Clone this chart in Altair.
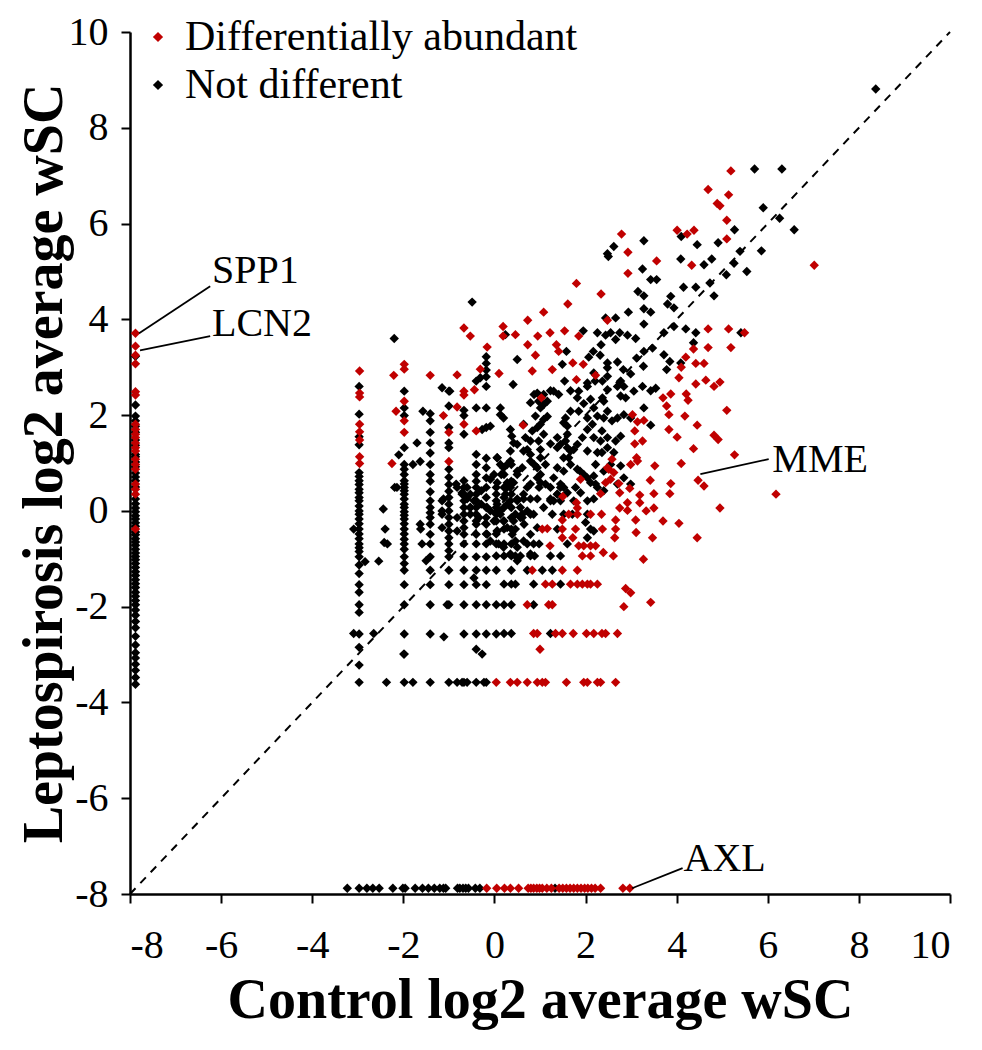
import altair as alt
import pandas as pd

GROUPS = ["Differentially abundant", "Not different"]
COLORS = ["#c00000", "#000000"]

# proteins absent in controls (drawn at the lower x bound)
ctrl_absent_x = -7.88
ctrl_absent_red_y = [3.71, 3.44, 3.25, 3.07, 2.49, 2.42, 1.81, 1.70, 1.60, 1.53, 1.42, 1.32,
                     1.25, 1.08, 0.97, 0.87, 0.56, 0.45, 0.35, -0.38]
ctrl_absent_black_y = [3.23, 2.21, 1.98, 1.88, 1.77, 1.64, 1.48, 1.37, 1.18, 1.13, 1.02, 0.92,
                       0.79, 0.71, 0.63, 0.50, 0.25, 0.15, 0.06, -0.02, -0.10, -0.17, -0.25,
                       -0.32, -0.44, -0.50, -0.58, -0.65, -0.72, -0.80, -0.88, -0.95, -1.02,
                       -1.10, -1.18, -1.27, -1.35, -1.44, -1.52, -1.60, -1.70, -1.78, -1.87,
                       -1.96, -2.07, -2.18, -2.31, -2.44, -2.62, -2.80, -2.96, -3.07, -3.20,
                       -3.33, -3.48, -3.62]

# proteins absent in leptospirosis (drawn at the lower y bound)
lepto_absent_y = -7.88
lepto_absent_red_x = [-0.17, 0.05, 0.22, 0.35, 0.53, 0.74, 0.80, 0.86, 0.93, 0.99, 1.05, 1.15,
                      1.25, 1.42, 1.50, 1.58, 1.66, 1.74, 1.82, 1.90, 1.98, 2.05, 2.13, 2.21,
                      2.33, 2.82, 2.97]
lepto_absent_black_x = [-3.23, -2.97, -2.80, -2.67, -2.53, -2.23, -2.01, -1.96, -1.74, -1.58,
                        -1.45, -1.32, -1.20, -1.12, -1.07, -0.81, -0.76, -0.69, -0.63, -0.57,
                        -0.42, -0.32, 1.33]

# discrete control levels: x -> leptospirosis values (not different)
black_columns = {
    -2.97: [2.60, 2.02, 1.55, 1.38, 0.80, 0.72, 0.63, 0.55, 0.45, 0.38, 0.28, 0.21, 0.10, 0.00,
            -0.07, -0.17, -0.27, -0.38, -0.48, -0.58, -0.69, -0.77, -0.85, -0.96, -1.13, -1.31,
            -1.54, -1.70, -1.96, -2.12, -2.57, -2.85, -3.22, -3.58],
    -1.98: [2.50, 2.15, 1.99, 1.32, 0.97, 0.87, 0.76, 0.63, 0.56, 0.49, 0.42, 0.35, 0.25, 0.14,
            0.07, -0.02, -0.09, -0.17, -0.27, -0.38, -0.48, -0.59, -0.69, -0.80, -0.96, -1.10,
            -1.24, -1.54, -1.96, -2.57, -2.99, -3.58],
    -1.41: [2.03, 1.88, 1.64, 1.42, 1.21, 0.97, 0.76, 0.62, 0.40, 0.21, 0.07, -0.04, -0.14,
            -0.28, -0.49, -0.69, -0.96, -1.24, -1.54, -1.96, -2.57, -3.58],
    -1.00: [2.50, 2.19, 1.74, 1.42, 1.32, 0.87, 0.70, 0.55, 0.41, 0.28, 0.14, 0.00, -0.14, -0.28,
            -0.42, -0.56, -0.69, -0.83, -0.96, -1.24, -1.54, -1.96, -3.58],
    -0.67: [2.10, 1.99, 1.60, 0.63, 0.49, 0.35, 0.21, 0.07, -0.07, -0.21, -0.35, -0.49, -0.69,
            -0.96, -1.24, -1.54, -1.96, -2.57, -3.58],
    -0.40: [2.15, 1.18, 0.97, 0.76, 0.62, 0.49, 0.35, 0.21, 0.07, -0.07, -0.21, -0.28, -0.49,
            -0.69, -0.96, -1.24, -1.54, -1.96, -2.57, -2.89, -3.58],
    -0.18: [3.22, 3.08, 2.94, 2.80, 2.60, 2.15, 1.74, 1.10, 0.90, 0.69, 0.49, 0.28, 0.07, -0.14,
            -0.28, -0.48, -0.69, -0.96, -1.24, -1.54, -1.96, -2.57, -3.58],
    0.04: [0.49, 0.35, 0.21, 0.07, -0.07, -0.21, -0.48, -0.69, -0.94, -1.24, -1.96, -2.57],
    0.21: [0.76, 0.49, 0.28, 0.07, -0.21, -0.38, -0.69, -0.94, -1.53, -1.96, -2.56],
    0.37: [0.97, 0.62, 0.35, 0.07, -0.14, -0.38, -0.69, -0.94, -1.24, -1.53, -1.96, -2.56],
}

# discrete leptospirosis levels: y -> control values (not different)
black_rows = {
    -3.58: [-2.37, -1.79, -0.82, -0.71, -0.60, -0.23],
    -2.56: [-3.09, -2.65, 1.23],
    -1.96: [-1.04, 0.86],
    -1.53: [0.46, 0.86, 1.45],
    -1.24: [0.72, 1.05, 1.27],
    -0.94: [0.46, 0.57, 0.79, 0.88, 1.23, 1.45],
    -0.69: [-2.35, -1.59, 0.09, 0.72, 0.86, 0.98, 1.60],
    -0.38: [-3.09, -2.40, -1.62, 0.46, 1.38, 2.11],
    -0.07: [-1.15, -0.53, 0.46, 0.61, 0.79, 0.86, 1.27, 1.52, 2.04],
    0.25: [-1.12, -0.60, 0.50, 0.64, 0.79, 0.94, 1.23, 2.18],
    0.49: [-2.14, 0.28, 0.72, 0.98, 1.23, 1.45],
}

# discrete leptospirosis levels: y -> control values (differentially abundant)
red_rows = {
    -3.58: [0.04, 0.35, 0.50, 0.72, 0.94, 1.05, 1.12, 1.58, 1.96, 2.04, 2.26, 2.33, 2.66],
    -2.56: [0.86, 0.94, 1.34, 1.49, 1.73, 2.02, 2.18, 2.36, 2.44, 2.70],
    -1.96: [0.72, 1.19, 1.27],
    -1.53: [1.12, 1.27, 1.67, 1.82, 1.93, 2.04, 2.11, 2.26],
    -1.24: [0.83, 1.49, 1.82],
}

black_left = [
    (-2.20, 3.60), (-2.44, 0.04), (-2.42, -0.66), (-2.54, -1.05), (-2.84, -1.06), (-2.19, 0.49),
    (-2.10, 1.17), (-1.79, 0.97), (-1.63, 1.03), (-1.63, -0.28), (-1.50, -1.04), (-1.57, 2.08),
    (-1.70, 1.42), (-1.15, 2.57), (-0.98, 2.50), (-0.49, 4.36), (-0.84, 0.56), (-0.60, 0.49),
    (-0.71, 0.35), (-1.11, -2.63), (-0.27, -2.99), (-0.45, -1.40), (-0.31, 2.78), (-0.40, 2.71),
    (-1.99, -2.99), (-0.53, 0.07), (-0.53, 0.35),
]

black_mid = [
    (0.41, 2.64), (0.50, 3.16), (0.24, 3.68), (0.13, 2.15), (0.13, 2.01), (0.20, 1.94),
    (-0.09, 1.77), (-0.27, 1.70), (0.35, 1.70), (0.38, 1.56), (0.42, 1.42), (0.06, 1.11),
    (0.13, 0.97), (-0.01, 0.76), (-0.09, 0.66), (0.06, 0.59), (0.15, 0.76), (0.28, 0.59),
    (0.42, 0.59), (0.24, 0.35), (0.35, 0.21), (0.57, 0.07), (0.72, 0.00), (0.57, -0.14),
    (0.65, -0.28), (0.42, -0.21), (0.13, -0.07), (0.06, -0.42),
]

# densest part of the cloud, around the origin
black_dense = [
    (-0.82, 0.49), (-0.71, 0.38), (-0.60, 0.28), (-0.45, 0.21), (-0.53, 0.07), (-0.34, -0.14),
    (-0.16, 0.07), (-0.09, 0.00), (-0.01, -0.21), (0.06, 0.14), (0.13, 0.00), (0.20, -0.21),
    (0.28, -0.35), (0.39, -0.49), (0.46, -0.63), (0.06, -0.42), (-0.16, -0.49), (-0.09, -0.63),
    (0.20, -0.76), (0.35, -0.90), (0.50, -0.76), (0.64, -0.63), (0.79, -0.49), (0.94, -0.35),
    (0.50, -1.04), (0.79, -0.90), (0.61, -0.14), (1.08, 0.07), (1.23, 0.21), (1.38, 0.35),
    (1.52, 0.49), (0.50, 0.21), (0.64, 0.35), (0.35, 0.49), (0.79, 0.56), (0.94, 0.69),
    (0.50, 0.76), (0.20, 0.90), (0.35, 1.04), (0.06, 1.11), (-1.15, 0.21), (-1.15, 0.00),
    (-1.15, -0.35), (-0.82, -0.14), (-0.82, -0.42), (-0.29, 0.42), (-0.29, 0.14), (0.28, 0.14),
]

black_cloud = [
    (1.54, 2.71), (1.67, 2.51), (1.23, 2.51), (1.08, 2.43), (0.94, 2.46), (1.85, 2.50),
    (2.04, 2.60), (2.21, 2.71), (2.37, 2.71), (2.48, 2.53), (2.37, 2.36), (2.11, 2.33),
    (1.96, 2.24), (1.67, 2.08), (1.56, 1.94), (1.16, 2.29), (0.79, 2.26), (1.01, 2.15),
    (0.90, 1.98), (1.08, 1.91), (0.83, 1.67), (0.64, 1.81), (2.83, 2.95), (2.99, 2.86),
    (2.77, 2.71), (2.84, 2.60), (2.77, 2.40), (2.88, 2.36), (3.06, 2.50), (3.25, 2.60),
    (3.43, 2.51), (3.54, 2.56), (3.27, 3.02), (3.12, 3.19), (3.28, 3.33), (3.47, 3.40),
    (3.72, 3.26), (3.85, 3.12), (3.78, 2.95), (4.09, 3.09), (4.37, 3.51), (3.28, 2.15),
    (3.43, 1.79), (2.99, 1.94), (2.84, 2.01), (2.77, 1.56), (2.66, 1.46), (2.40, 1.94),
    (2.15, 1.81), (2.04, 1.70), (1.93, 1.53), (2.18, 1.53), (2.33, 1.46), (2.26, 1.22),
    (2.04, 1.25), (1.82, 1.39), (1.67, 1.25), (1.52, 1.11), (1.38, 1.32), (1.60, 1.60),
    (1.52, 1.84), (1.38, 1.53), (1.23, 1.40), (1.08, 1.60), (0.94, 1.74), (0.79, 1.46),
    (0.64, 1.25), (0.50, 1.39), (0.35, 1.25), (0.28, 0.97), (0.50, 0.83), (0.79, 1.04),
    (0.94, 0.90), (1.12, 0.97), (1.38, 0.90), (1.52, 0.83), (1.67, 0.97), (1.88, 0.83),
    (2.04, 0.69), (2.55, 0.97), (2.62, 1.22), (2.48, 1.32), (2.77, 0.94), (2.84, 0.69),
    (2.99, 0.56), (2.70, 0.56), (2.40, 0.42), (2.22, 0.56), (0.87, 2.43), (0.97, 2.29),
    (1.08, 2.22), (1.16, 1.97), (1.01, 1.81), (1.41, 2.43), (1.30, 2.50), (2.04, 2.67),
    (2.18, 2.15), (2.26, 1.98), (2.04, 1.94), (1.85, 2.08), (1.60, 1.77), (2.40, 2.29),
    (2.48, 2.08), (2.58, 1.88), (2.48, 2.81), (2.70, 2.60), (2.48, 2.99), (2.18, 2.88),
    (1.82, 2.36), (2.36, 1.67), (2.48, 1.53), (2.70, 1.94), (0.72, 1.28), (0.97, 1.46),
    (1.01, 1.28), (1.01, 1.11), (1.45, 1.39), (1.56, 1.46), (1.60, 1.32), (1.74, 1.28),
    (1.63, 1.11), (1.82, 0.87), (1.96, 0.76), (2.11, 0.59), (2.26, 0.49), (0.68, 1.53),
    (0.79, 1.18), (0.87, 0.97), (0.61, 0.90), (1.01, 0.76), (1.01, 0.59), (1.12, 0.56),
    (1.30, 0.69), (1.45, 0.56), (1.38, 0.35), (1.60, 0.38), (1.78, 0.49), (1.89, 0.38),
    (2.18, 0.73), (2.40, 0.83), (2.22, 0.97), (2.36, 1.22), (1.30, 0.21), (1.45, 0.21),
    (1.74, 0.21), (2.04, 0.21), (1.71, -0.07), (2.00, -0.24), (2.18, -0.42), (2.04, -0.56),
]

black_top = [
    (8.37, 8.81), (5.71, 7.14), (6.31, 7.14), (5.90, 6.33), (6.26, 6.11), (6.58, 5.87),
    (5.27, 5.87), (4.91, 5.60), (4.45, 5.56), (4.10, 5.73), (5.86, 5.43), (5.39, 5.42),
    (5.54, 5.00), (5.26, 5.17), (5.09, 4.93), (4.77, 5.26), (4.60, 5.14), (4.73, 4.76),
    (4.82, 4.49), (4.42, 4.67), (4.15, 4.67), (4.09, 5.26), (3.28, 5.64), (2.62, 5.52),
    (2.48, 5.37), (2.50, 5.31), (3.25, 5.05), (3.43, 4.83), (3.56, 4.83), (3.15, 4.58),
    (3.28, 4.49), (3.87, 4.48), (3.94, 4.24), (3.80, 4.32), (3.28, 4.22), (3.43, 4.15),
    (2.94, 4.15), (2.66, 4.03), (2.44, 4.03), (3.28, 3.90), (3.94, 3.85), (4.20, 3.80),
    (4.42, 3.72), (5.41, 3.72), (3.72, 3.72), (1.95, 3.76), (2.26, 3.72), (2.44, 3.67),
    (2.55, 3.72), (2.75, 3.72), (2.92, 3.67), (3.10, 3.60), (2.66, 3.58), (2.34, 3.47),
    (2.17, 3.33), (2.32, 3.25), (2.48, 3.09), (2.70, 3.11), (2.07, 3.21), (1.58, 3.33),
    (1.49, 3.06),
]

red_left = [
    (-2.96, 2.92), (-2.96, 2.46), (-2.96, 2.38), (-2.96, 1.81), (-2.96, 1.65), (-2.96, 1.48),
    (-2.96, 1.13), (-2.96, 0.99), (-2.21, 2.83), (-2.16, 2.08), (-2.25, 0.99), (-1.98, 3.06),
    (-1.98, 2.96), (-1.98, 2.29), (-1.98, 1.88), (-1.98, 1.64), (-1.41, 2.83), (-1.12, 1.99),
    (-0.82, 2.84), (-1.00, 1.64), (-1.00, 1.03), (-0.82, 2.17), (-0.67, 2.50), (-0.67, 2.42),
    (-0.67, 1.81), (-0.40, 1.67), (-0.31, 2.96), (-0.44, 2.53), (-0.16, 3.42), (-0.67, 3.82),
    (-0.53, 3.65),
]

red_upper = [
    (0.10, 2.87), (0.19, 3.85), (0.19, 3.65), (0.46, 3.68), (0.73, 3.98), (0.73, 3.47),
    (0.95, 3.65), (1.22, 3.72), (1.54, 3.76), (1.85, 3.65), (0.90, 3.25), (1.36, 3.47),
    (1.41, 3.33), (1.08, 4.15), (1.61, 4.32), (1.80, 4.75), (2.34, 4.53), (1.27, 2.95),
    (1.72, 3.09), (1.95, 3.06), (1.80, 2.74), (0.83, 2.92), (2.48, 3.98), (0.63, 1.79),
    (1.03, 2.36), (2.22, 2.83), (2.79, 5.78), (2.93, 5.40), (2.93, 4.96), (3.56, 5.22),
    (4.01, 5.86), (4.23, 5.78), (4.38, 5.86), (4.69, 6.71), (5.14, 6.60), (4.89, 6.42),
    (4.95, 6.37), (5.10, 6.07), (5.10, 5.68), (4.33, 5.13), (5.19, 7.10), (7.02, 5.13),
]

red_right = [
    (1.00, -2.89), (2.84, -2.00), (2.88, -1.62), (2.99, -1.71), (3.43, -1.91), (3.27, -1.01),
    (2.61, -0.94), (2.39, -0.87), (1.93, -0.94), (2.11, -0.94), (2.22, -0.73), (2.11, -0.73),
    (1.96, -0.73), (1.85, -0.73), (1.22, -0.73), (1.72, -0.56), (1.49, -0.56), (2.64, -0.56),
    (3.47, -0.56), (4.45, -0.56), (1.78, -0.38), (1.49, -0.38), (1.16, -0.37), (1.05, -0.38),
    (2.37, -0.38), (2.66, -0.38), (3.11, -0.45), (3.10, -0.19), (2.66, -0.19), (1.49, -0.19),
    (1.63, -0.07), (1.82, -0.07), (2.11, -0.07), (2.35, -0.07), (1.82, 0.06), (1.80, 0.17),
    (2.75, 0.06), (2.92, 0.01), (2.92, 0.17), (3.33, 0.00), (3.50, 0.06), (3.19, 0.17),
    (3.19, 0.33), (3.50, 0.36), (3.85, 0.36), (3.70, -0.21), (4.05, -0.26), (4.95, 0.06),
    (1.50, 0.30), (2.33, 0.36), (2.75, 0.38), (2.97, 0.47), (2.44, 0.59), (2.55, 0.66),
    (2.73, 0.57), (2.51, 0.87), (2.62, 0.80), (2.48, 0.90), (2.58, 1.08), (1.89, 0.66),
    (3.87, 0.57), (3.52, 0.94), (4.10, 0.99), (4.37, 1.30), (3.42, 0.64), (4.47, 0.64),
    (4.60, 0.52), (6.18, 0.35), (5.27, 1.17), (3.14, 1.04), (2.99, 0.97), (3.12, 1.11),
    (3.08, 1.40), (3.25, 1.46), (3.08, 1.67), (3.03, 2.01), (3.14, 1.86), (3.28, 1.89),
    (3.70, 2.36), (3.78, 2.19), (3.83, 2.01), (3.83, 1.70), (4.01, 1.54), (4.18, 1.98),
    (4.45, 1.79), (4.82, 1.58), (4.91, 1.49), (3.87, 2.44), (4.21, 2.44), (4.25, 2.31),
    (4.42, 2.65), (4.64, 2.73), (4.82, 2.60), (4.95, 2.69), (5.10, 2.10), (4.05, 2.78),
    (4.10, 3.00), (4.20, 3.21), (4.42, 3.08), (4.60, 3.08), (4.37, 3.38), (4.69, 3.41),
    (5.19, 3.41), (4.69, 3.80), (5.14, 3.80), (5.49, 3.72),
]

# annotations
label_names = ["SPP1", "LCN2", "MME", "AXL"]
label_x = [-6.20, -6.20, 6.10, 4.15]
label_y = [5.00, 3.90, 1.06, -7.27]
leader_x1 = [-6.24, -6.24, 6.02, 4.13]
leader_y1 = [4.69, 3.65, 1.08, -7.46]
leader_x2 = [-7.80, -7.78, 4.52, 3.02]
leader_y2 = [3.71, 3.35, 0.77, -7.88]
diag = [-8, 10]

# ---- build tables ----
rows = []
def add(x, y, g, order):
    rows.append({"x": x, "y": y, "group": g, "order": order})

NOT, DIFF = GROUPS[1], GROUPS[0]
for y in ctrl_absent_black_y:
    add(ctrl_absent_x, y, NOT, 0)
for x in lepto_absent_black_x:
    add(x, lepto_absent_y, NOT, 0)
for x, ys in black_columns.items():
    for y in ys:
        add(x, y, NOT, 0)
for y, xs in black_rows.items():
    for x in xs:
        add(x, y, NOT, 0)
for pts in (black_left, black_mid, black_dense, black_cloud, black_top):
    for x, y in pts:
        add(x, y, NOT, 0)
for y in ctrl_absent_red_y:
    add(ctrl_absent_x, y, DIFF, 1)
for x in lepto_absent_red_x:
    add(x, lepto_absent_y, DIFF, 1)
for y, xs in red_rows.items():
    for x in xs:
        add(x, y, DIFF, 1)
for pts in (red_left, red_upper, red_right):
    for x, y in pts:
        add(x, y, DIFF, 1)
points_df = pd.DataFrame(rows)

ann_df = pd.DataFrame({"name": label_names, "lx": label_x, "ly": label_y,
                       "x1": leader_x1, "y1": leader_y1, "x2": leader_x2, "y2": leader_y2})
diag_df = pd.DataFrame({"x1": [diag[0]], "y1": [diag[0]], "x2": [diag[1]], "y2": [diag[1]]})

FONT = "Liberation Serif"
xscale = alt.Scale(domain=[-8, 10], nice=False, zero=False)
yscale = alt.Scale(domain=[-8, 10], nice=False, zero=False)
ticks = list(range(-8, 11, 2))
hyphen_labels = "datum.value < 0 ? '-' + abs(datum.value) : '' + datum.value"

x_axis = alt.Axis(values=ticks, title="Control log2 average wSC", grid=False,
                  labelPadding=22, labelExpr=hyphen_labels,
                  titleX=410, titleY=106, titleBaseline="middle", titleAnchor="middle")
y_axis = alt.Axis(values=ticks, title="Leptospirosis log2 average wSC", grid=False,
                  labelPadding=13, labelExpr=hyphen_labels,
                  titleX=-86, titleY=431, titleBaseline="middle", titleAnchor="middle")

diag_layer = alt.Chart(diag_df).mark_rule(color="black", strokeWidth=2, strokeDash=[8, 7]).encode(
    x=alt.X("x1:Q", scale=xscale, axis=x_axis),
    y=alt.Y("y1:Q", scale=yscale, axis=y_axis),
    x2="x2:Q", y2="y2:Q",
)

pts_layer = alt.Chart(points_df).mark_point(shape="diamond", filled=True, size=88, opacity=1,
                                             strokeWidth=0).encode(
    x=alt.X("x:Q", scale=xscale),
    y=alt.Y("y:Q", scale=yscale),
    color=alt.Color("group:N", scale=alt.Scale(domain=GROUPS, range=COLORS),
                    legend=alt.Legend(title=None, orient="none", legendX=7, legendY=-16,
                                      symbolType="diamond", symbolSize=105, labelFont=FONT,
                                      labelFontSize=42, labelColor="black", labelOffset=6,
                                      labelLimit=0, rowPadding=6, padding=0,
                                      symbolStrokeWidth=0)),
    order=alt.Order("order:Q"),
)

leader_layer = alt.Chart(ann_df).mark_rule(color="black", strokeWidth=1.8).encode(
    x="x1:Q", y="y1:Q", x2="x2:Q", y2="y2:Q",
)

text_layer = alt.Chart(ann_df).mark_text(align="left", baseline="middle", font=FONT,
                                         fontSize=40, color="black").encode(
    x="lx:Q", y="ly:Q", text="name:N",
)

chart = alt.layer(diag_layer, pts_layer, leader_layer, text_layer).properties(
    width=820, height=862,
    autosize=alt.AutoSizeParams(type="none"),
    padding={"left": 122, "top": 24, "right": 20, "bottom": 150},
).configure_view(stroke=None).configure_axis(
    domainColor="black", domainWidth=2.5, tickColor="black", tickWidth=2, tickSize=9,
    labelFont=FONT, labelFontSize=40, labelColor="black",
    titleFont=FONT, titleFontSize=56, titleFontWeight="bold", titleColor="black",
)

chart.save("out.html", embed_options={"renderer": "svg", "actions": False})
